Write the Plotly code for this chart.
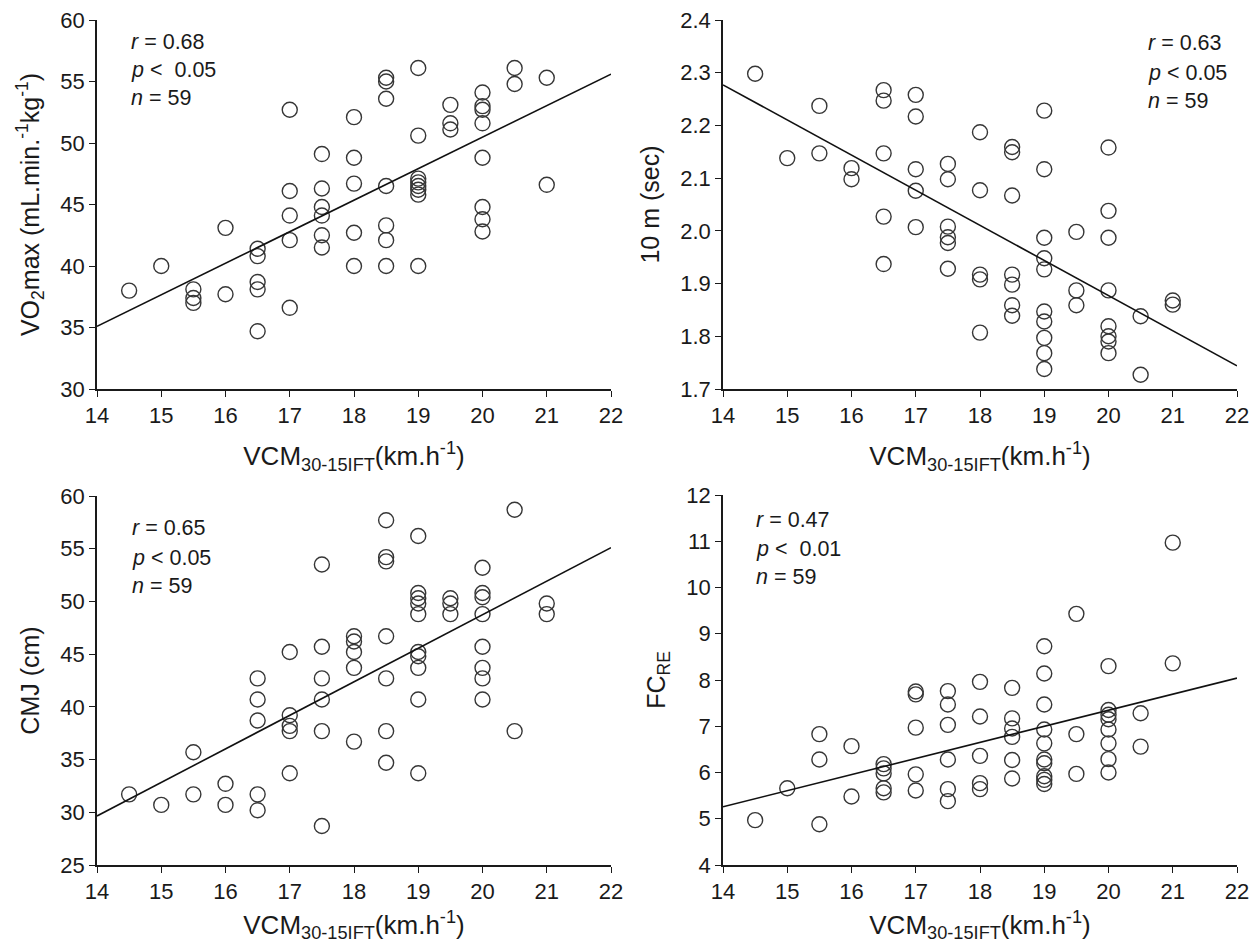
import plotly.graph_objects as go

# ---------- data ----------
vo2_x = [14.5, 15, 15.5, 15.5, 15.5, 16, 16, 16.5, 16.5, 16.5, 16.5, 16.5,
         17, 17, 17, 17, 17, 17.5, 17.5, 17.5, 17.5, 17.5, 17.5,
         18, 18, 18, 18, 18, 18.5, 18.5, 18.5, 18.5, 18.5, 18.5, 18.5,
         19, 19, 19, 19, 19, 19, 19, 19, 19.5, 19.5, 19.5,
         20, 20, 20, 20, 20, 20, 20, 20, 20.5, 20.5, 21, 21]
vo2_y = [38.0, 40.0, 38.1, 37.4, 37.0, 43.1, 37.7, 41.4, 40.8, 38.7, 38.1, 34.7,
         52.7, 46.1, 44.1, 42.1, 36.6, 49.1, 46.3, 44.8, 44.1, 42.5, 41.5,
         52.1, 48.8, 46.7, 42.7, 40.0, 55.3, 55.0, 53.6, 46.5, 43.3, 42.1, 40.0,
         56.1, 50.6, 47.1, 46.8, 46.5, 46.2, 45.8, 40.0, 53.1, 51.6, 51.1,
         54.1, 53.0, 52.7, 51.6, 48.8, 44.8, 43.8, 42.8, 56.1, 54.8, 55.3, 46.6]
vo2_fit_x = [14, 22]
vo2_fit_y = [35.1, 55.6]

sprint_x = [14.5, 15, 15.5, 15.5, 16, 16, 16.5, 16.5, 16.5, 16.5, 16.5,
            17, 17, 17, 17, 17, 17.5, 17.5, 17.5, 17.5, 17.5, 17.5,
            18, 18, 18, 18, 18, 18.5, 18.5, 18.5, 18.5, 18.5, 18.5, 18.5,
            19, 19, 19, 19, 19, 19, 19, 19, 19, 19, 19.5, 19.5, 19.5,
            20, 20, 20, 20, 20, 20, 20, 20, 20.5, 20.5, 21, 21]
sprint_y = [2.298, 2.138, 2.237, 2.147, 2.119, 2.098, 2.267, 2.247, 2.147, 2.027, 1.937,
            2.258, 2.217, 2.117, 2.076, 2.007, 2.127, 2.098, 2.008, 1.988, 1.977, 1.928,
            2.187, 2.077, 1.917, 1.908, 1.807, 2.159, 2.149, 2.067, 1.917, 1.898, 1.859, 1.839,
            2.228, 2.117, 1.987, 1.948, 1.927, 1.847, 1.828, 1.797, 1.768, 1.738, 1.998, 1.887, 1.859,
            2.158, 2.038, 1.987, 1.887, 1.819, 1.800, 1.790, 1.768, 1.838, 1.727, 1.868, 1.860]
sprint_fit_x = [14, 22]
sprint_fit_y = [2.277, 1.744]

cmj_x = [14.5, 15, 15.5, 15.5, 16, 16, 16.5, 16.5, 16.5, 16.5, 16.5,
         17, 17, 17, 17, 17, 17.5, 17.5, 17.5, 17.5, 17.5, 17.5,
         18, 18, 18, 18, 18, 18.5, 18.5, 18.5, 18.5, 18.5, 18.5, 18.5,
         19, 19, 19, 19, 19, 19, 19, 19, 19, 19, 19.5, 19.5, 19.5,
         20, 20, 20, 20, 20, 20, 20, 20, 20.5, 20.5, 21, 21]
cmj_y = [31.7, 30.7, 35.7, 31.7, 32.7, 30.7, 42.7, 40.7, 38.7, 31.7, 30.2,
         45.2, 39.2, 38.2, 37.7, 33.7, 53.5, 45.7, 42.7, 40.7, 37.7, 28.7,
         46.7, 46.2, 45.2, 43.7, 36.7, 57.7, 54.2, 53.8, 46.7, 42.7, 37.7, 34.7,
         56.2, 50.8, 50.3, 49.8, 48.8, 45.2, 44.8, 43.7, 40.7, 33.7, 50.3, 49.8, 48.8,
         53.2, 50.8, 50.4, 48.8, 45.7, 43.7, 42.7, 40.7, 58.7, 37.7, 49.8, 48.8]
cmj_fit_x = [14, 22]
cmj_fit_y = [29.65, 55.1]

fc_x = [14.5, 15, 15.5, 15.5, 15.5, 16, 16, 16.5, 16.5, 16.5, 16.5, 16.5,
        17, 17, 17, 17, 17, 17.5, 17.5, 17.5, 17.5, 17.5, 17.5,
        18, 18, 18, 18, 18, 18.5, 18.5, 18.5, 18.5, 18.5, 18.5,
        19, 19, 19, 19, 19, 19, 19, 19, 19, 19, 19.5, 19.5, 19.5,
        20, 20, 20, 20, 20, 20, 20, 20, 20.5, 20.5, 21, 21]
fc_y = [4.97, 5.66, 6.83, 6.28, 4.88, 6.57, 5.48, 6.18, 6.09, 5.98, 5.66, 5.57,
        7.75, 7.69, 6.97, 5.96, 5.61, 7.76, 7.47, 7.03, 6.28, 5.64, 5.38,
        7.96, 7.21, 6.36, 5.77, 5.64, 7.83, 7.17, 6.95, 6.77, 6.27, 5.87,
        8.73, 8.14, 7.47, 6.93, 6.63, 6.28, 6.20, 5.92, 5.84, 5.75, 9.43, 6.83, 5.97,
        8.30, 7.35, 7.25, 7.15, 6.93, 6.63, 6.29, 6.00, 7.28, 6.56, 10.97, 8.36]
fc_fit_x = [14, 22]
fc_fit_y = [5.26, 8.04]

x_ticks = [14, 15, 16, 17, 18, 19, 20, 21, 22]

stats_vo2 = ["<i>r</i> = 0.68", "<i>p</i> &lt;&nbsp; 0.05", "<i>n</i> = 59"]
stats_sprint = ["<i>r</i> = 0.63", "<i>p</i> &lt; 0.05", "<i>n</i> = 59"]
stats_cmj = ["<i>r</i> = 0.65", "<i>p</i> &lt; 0.05", "<i>n</i> = 59"]
stats_fc = ["<i>r</i> = 0.47", "<i>p</i> &lt;&nbsp; 0.01", "<i>n</i> = 59"]

x_title = "VCM<sub>30-15IFT</sub>(km.h<sup>-1</sup>)"

# ---------- layout helpers ----------
W, H = 1255, 943
FONT = "Liberation Sans, Arial, sans-serif"
TXT = "#1a1a1a"

def px_x(p):
    return p / W

def px_y(p):
    return 1 - p / H

panels = [
    dict(x=vo2_x, y=vo2_y, fx=vo2_fit_x, fy=vo2_fit_y, yr=[30, 60], dt=5,
         ytitle="VO<sub>2</sub>max (mL.min.<sup>-1</sup>kg<sup>-1</sup>)",
         dom_x=[97, 611], dom_y=[20, 389], stats=stats_vo2,
         sx=129, sy=[42, 70, 98], tickfmt=None),
    dict(x=sprint_x, y=sprint_y, fx=sprint_fit_x, fy=sprint_fit_y, yr=[1.7, 2.4], dt=0.1,
         ytitle="10 m (sec)",
         dom_x=[723, 1237], dom_y=[20, 389], stats=stats_sprint,
         sx=1146, sy=[43, 73, 101], tickfmt=".1f"),
    dict(x=cmj_x, y=cmj_y, fx=cmj_fit_x, fy=cmj_fit_y, yr=[25, 60], dt=5,
         ytitle="CMJ (cm)",
         dom_x=[97, 611], dom_y=[496, 865], stats=stats_cmj,
         sx=130, sy=[528, 558, 586], tickfmt=None),
    dict(x=fc_x, y=fc_y, fx=fc_fit_x, fy=fc_fit_y, yr=[4, 12], dt=1,
         ytitle="FC<sub>RE</sub>",
         dom_x=[723, 1237], dom_y=[495, 865], stats=stats_fc,
         sx=754, sy=[520, 549, 577], tickfmt=None),
]

fig = go.Figure()
layout = dict(
    width=W, height=H,
    margin=dict(l=0, r=0, t=0, b=0),
    paper_bgcolor="white", plot_bgcolor="white",
    showlegend=False,
    font=dict(family=FONT, color=TXT, size=22),
)
annotations = []

for i, p in enumerate(panels):
    n = i + 1
    xa = "x" if n == 1 else f"x{n}"
    ya = "y" if n == 1 else f"y{n}"
    fig.add_trace(go.Scatter(
        x=p["x"], y=p["y"], mode="markers", xaxis=xa, yaxis=ya,
        marker=dict(symbol="circle-open", size=15, color="#363636",
                    line=dict(width=1.4, color="#363636")),
        cliponaxis=False, hoverinfo="x+y"))
    fig.add_trace(go.Scatter(
        x=p["fx"], y=p["fy"], mode="lines", xaxis=xa, yaxis=ya,
        line=dict(color="#111111", width=1.6), hoverinfo="skip"))

    axis_common = dict(
        showgrid=False, zeroline=False, showline=True, linecolor=TXT,
        linewidth=1.5, ticks="outside", ticklen=6, tickwidth=1.3,
        tickcolor=TXT, tickfont=dict(size=22, family=FONT, color=TXT),
        mirror=False, automargin=False,
    )
    xkey = "xaxis" if n == 1 else f"xaxis{n}"
    ykey = "yaxis" if n == 1 else f"yaxis{n}"
    layout[xkey] = dict(
        axis_common, range=[14, 22], tickmode="array", tickvals=x_ticks,
        domain=[px_x(p["dom_x"][0]), px_x(p["dom_x"][1])], anchor=ya,
        title=dict(text=x_title, font=dict(size=26, family=FONT, color=TXT),
                   standoff=20),
    )
    layout[ykey] = dict(
        axis_common, range=p["yr"], dtick=p["dt"], tick0=p["yr"][0],
        domain=[px_y(p["dom_y"][1]), px_y(p["dom_y"][0])], anchor=xa,
        title=dict(text=p["ytitle"], font=dict(size=25, family=FONT, color=TXT),
                   standoff=14),
    )
    if p["tickfmt"]:
        layout[ykey]["tickformat"] = p["tickfmt"]

    for txt, yy in zip(p["stats"], p["sy"]):
        annotations.append(dict(
            text=txt, xref="paper", yref="paper", x=px_x(p["sx"]), y=px_y(yy),
            xanchor="left", yanchor="middle", showarrow=False,
            font=dict(size=21.5, family=FONT, color=TXT)))

layout["annotations"] = annotations
fig.update_layout(**layout)
fig.write_html(
    "out.html",
    config={"displayModeBar": False},
    post_script="document.body.style.margin='0';document.body.style.overflow='hidden';",
)
